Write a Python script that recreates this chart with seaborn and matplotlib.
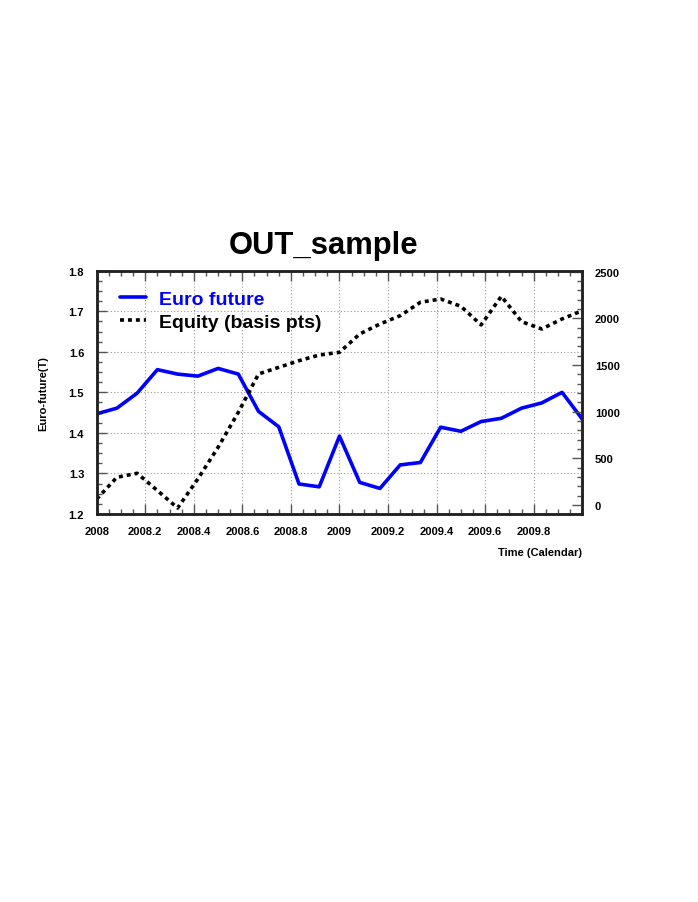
import matplotlib
matplotlib.use("Agg")
import matplotlib.pyplot as plt
import numpy as np
import pandas as pd
import seaborn as sns
from matplotlib.ticker import MultipleLocator

# monthly time points 2008 .. 2010
months = [2008 + i / 12 for i in range(25)]

euro_future = [1.447, 1.461, 1.498, 1.556, 1.545, 1.540, 1.559, 1.545, 1.453,
               1.415, 1.274, 1.267, 1.392, 1.278, 1.263, 1.321, 1.327, 1.414,
               1.404, 1.428, 1.436, 1.461, 1.474, 1.500, 1.434]

equity = [64, 297, 340, 155, -32, 279, 618, 993, 1404, 1475, 1546, 1607,
          1636, 1832, 1939, 2028, 2172, 2207, 2129, 1929, 2236, 1964, 1886,
          1993, 2082]

x_ticks = [2008, 2008.2, 2008.4, 2008.6, 2008.8, 2009, 2009.2, 2009.4, 2009.6, 2009.8]
x_labels = ["2008", "2008.2", "2008.4", "2008.6", "2008.8", "2009",
            "2009.2", "2009.4", "2009.6", "2009.8"]

df = pd.DataFrame({"time": months, "euro": euro_future, "equity": equity})

sns.set_style("white")
plt.rcParams["font.family"] = ["Liberation Sans", "DejaVu Sans"]
plt.rcParams["font.weight"] = "bold"
plt.rcParams["text.color"] = "black"
plt.rcParams["axes.labelcolor"] = "black"
plt.rcParams["xtick.color"] = "black"
plt.rcParams["ytick.color"] = "black"

fig = plt.figure(figsize=(6.98, 9.03), dpi=100)
ax = fig.add_axes([0.1385, 0.4297, 0.6957, 0.2694])
ax2 = ax.twinx()

# euro future on left axis
sns.lineplot(data=df, x="time", y="euro", ax=ax, color="#0000ff", linewidth=2.6,
             label="Euro future", legend=False)
# equity on right axis
sns.lineplot(data=df, x="time", y="equity", ax=ax2, color="black", linewidth=2.6,
             linestyle=(0, (1.1, 1.1)), label="Equity (basis pts)", legend=False)

ax.set_xlim(2008, 2010)
ax.set_ylim(1.2, 1.8)
ax2.set_ylim(-96, 2510)

ax.set_xticks(x_ticks)
ax.set_xticklabels(x_labels)
ax.yaxis.set_major_locator(MultipleLocator(0.1))
ax.xaxis.set_minor_locator(MultipleLocator(0.05))
ax.yaxis.set_minor_locator(MultipleLocator(0.025))
ax2.yaxis.set_major_locator(MultipleLocator(500))
ax2.yaxis.set_minor_locator(MultipleLocator(100))

ax.grid(True, which="major", linestyle=(0, (1, 2)), color="#999999", linewidth=0.8)
ax.set_axisbelow(True)

ax.tick_params(axis="both", which="major", direction="in", length=7, width=1,
               labelsize=8, top=True, bottom=True, left=True, right=False,
               color="#555555", labelcolor="black")
ax.tick_params(axis="both", which="minor", direction="in", length=3.5, width=1,
               top=True, bottom=True, left=True, right=False, color="#555555")
ax.tick_params(axis="x", pad=9)
ax.tick_params(axis="y", pad=9)
ax2.tick_params(axis="y", which="major", direction="in", length=7, width=1,
                labelsize=8, pad=9, color="#555555", labelcolor="black")
ax2.tick_params(axis="y", which="minor", direction="in", length=3.5, width=1, color="#555555")

for t in ax.get_xticklabels() + ax.get_yticklabels() + ax2.get_yticklabels():
    t.set_fontweight("bold")

for a in (ax, ax2):
    for s in a.spines.values():
        s.set_linewidth(1.8)
        s.set_color("#222222")

ax.set_xlabel("")
ax.set_ylabel("")
ax2.set_ylabel("")
ax.text(1.0, -0.155, "Time (Calendar)", transform=ax.transAxes, ha="right", va="center",
        fontsize=8, fontweight="bold", color="black")
fig.text(0.0616, 0.5644, "Euro-future(T)", rotation=90, ha="center", va="center",
         fontsize=8, fontweight="bold", color="black")

fig.text(0.463, 0.728, "OUT_sample", ha="center", va="center", fontsize=22.3,
         fontweight="bold", color="black")

h1, l1 = ax.get_legend_handles_labels()
h2, l2 = ax2.get_legend_handles_labels()
leg = ax2.legend(h1 + h2, l1 + l2, loc="upper left", bbox_to_anchor=(0.013, 0.99),
                 frameon=False, handlelength=1.3, handletextpad=0.7,
                 labelspacing=0.25, prop={"weight": "bold", "size": 14})
leg.get_texts()[0].set_color("#0000ff")
leg.get_texts()[1].set_color("black")

fig.savefig("out.png", dpi=100)
